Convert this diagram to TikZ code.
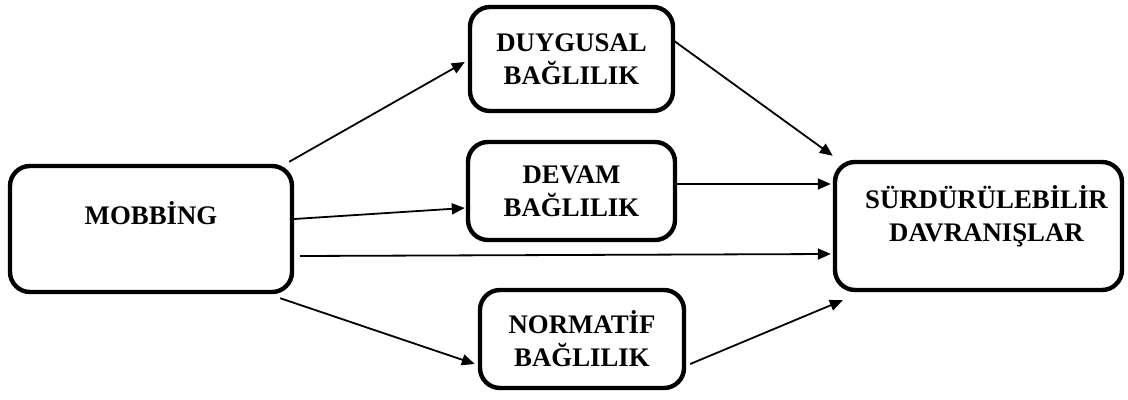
\documentclass[tikz,border=0pt]{standalone}
\usepackage{fontspec}
\setmainfont{Liberation Serif}
\usetikzlibrary{arrows.meta}
\tikzset{
  box/.style={draw, line width=2.2pt, rounded corners=10pt, inner sep=0pt,
    font=\bfseries\fontsize{13.4pt}{16.5pt}\selectfont, align=center},
  arr/.style={line width=0.9pt, -{Triangle[length=6.5pt,width=5.5pt]}},
}
\begin{document}
\begin{tikzpicture}[x=0.5pt,y=-0.5pt]
\useasboundingbox (0,0) rectangle (1128,400);
\node[box, minimum width=141pt, minimum height=63pt,
  label={[font=\bfseries\fontsize{13.4pt}{16.5pt}\selectfont, yshift=8pt]center:MOBBİNG}] (mob) at (151,229) {};
\node[box, minimum width=101.5pt, minimum height=52pt] (duy) at (571.5,59) {DUYGUSAL\\BAĞLILIK};
\node[box, minimum width=103.5pt, minimum height=49pt] (dev) at (571.5,191) {DEVAM\\BAĞLILIK};
\node[box, minimum width=102pt, minimum height=49pt] (nor) at (582,339) {NORMATİF\\BAĞLILIK};
\node[box, minimum width=143.5pt, minimum height=64pt,
  label={[font=\bfseries\fontsize{13.4pt}{16.5pt}\selectfont, align=center, xshift=4pt, yshift=5pt]center:SÜRDÜRÜLEBİLİR\\DAVRANIŞLAR}] (sur) at (978.5,226) {};
\draw[arr] ([xshift=-2.5pt,yshift=1pt]mob.north east) -- ([xshift=-1.5pt,yshift=-1.5pt]duy.west);
\draw[arr] ([yshift=5pt]mob.east) -- ([xshift=-0.5pt,yshift=-8.5pt]dev.west);
\draw[arr] ([xshift=3pt,yshift=-13.5pt]mob.east) -- ([xshift=-1pt,yshift=-14pt]sur.west);
\draw[arr] ([xshift=-7pt,yshift=-2pt]mob.south east) -- ([xshift=-1.5pt,yshift=-12.5pt]nor.west);
\draw[arr] ([xshift=-0.5pt,yshift=9pt]duy.east) -- ([yshift=2pt]sur.north west);
\draw[arr] ([yshift=3.5pt]dev.east) -- ([xshift=-1pt,yshift=21pt]sur.west);
\draw[arr] ([xshift=2pt,yshift=-12.5pt]nor.east) -- ([xshift=5pt,yshift=-4pt]sur.south west);
\end{tikzpicture}
\end{document}
